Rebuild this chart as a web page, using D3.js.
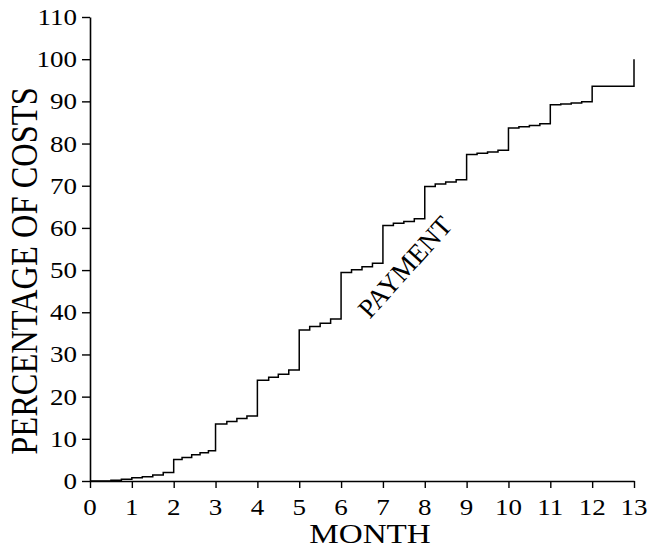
<!DOCTYPE html>
<html>
<head>
<meta charset="utf-8">
<script src="https://cdn.jsdelivr.net/npm/d3@7"></script>
<style>
  html, body { margin: 0; padding: 0; background: #fff; }
  svg text { font-family: "Liberation Serif", "Times New Roman", serif; fill: #000; }
</style>
</head>
<body>
<svg id="chart" width="659" height="550"></svg>
<script>
// ---- data ----
const stepMonths = [0, 0.5, 0.75, 1.0, 1.25, 1.5, 1.75, 2.0, 2.2, 2.43, 2.63, 2.83,
  3.0, 3.27, 3.51, 3.75, 4.0, 4.27, 4.5, 4.75, 5.0, 5.25, 5.5, 5.75,
  6.0, 6.25, 6.5, 6.75, 7.0, 7.25, 7.5, 7.75, 8.0, 8.25, 8.5, 8.75,
  9.0, 9.25, 9.5, 9.75, 10.0, 10.25, 10.5, 10.75, 11.0, 11.25, 11.5, 11.75,
  12.0, 13.0];
const paymentPct = [0, 0.2, 0.4, 0.8, 1.0, 1.4, 2.0, 5.1, 5.6, 6.2, 6.7, 7.2,
  13.5, 14.1, 14.8, 15.4, 23.9, 24.6, 25.3, 26.3, 35.8, 36.6, 37.4, 38.4,
  49.4, 50.1, 50.8, 51.6, 60.6, 61.1, 61.5, 62.2, 69.8, 70.4, 70.9, 71.4,
  77.4, 77.7, 78.0, 78.4, 83.7, 84.0, 84.3, 84.7, 89.2, 89.4, 89.6, 89.9,
  93.6, 100];
const xTicks = [0,1,2,3,4,5,6,7,8,9,10,11,12,13];
const yTicks = [0,10,20,30,40,50,60,70,80,90,100,110];
const xTitle = "MONTH";
const yTitle = "PERCENTAGE OF COSTS";
const curveLabel = "PAYMENT";

// ---- layout ----
const svg = d3.select("#chart");
const mLeft = 90, mRight = 634, mTop = 17, mBottom = 481;
const SX = 1.15; // horizontal stretch of lettering

const x = d3.scaleLinear().domain([0, 13]).range([mLeft, mRight]);
const y = d3.scaleLinear().domain([0, 110]).range([mBottom, mTop]);

// axes
const xAxis = d3.axisBottom(x).tickValues(xTicks).tickSize(7).tickSizeOuter(0).tickFormat("");
const yAxis = d3.axisLeft(y).tickValues(yTicks).tickSize(8).tickSizeOuter(0).tickFormat("");

const gx = svg.append("g").attr("transform", `translate(0,${mBottom})`).call(xAxis);
const gy = svg.append("g").attr("transform", `translate(${mLeft},0)`).call(yAxis);
[gx, gy].forEach(g => {
  g.select(".domain").attr("stroke", "#000").attr("stroke-width", 1.6);
  g.selectAll(".tick line").attr("stroke", "#000").attr("stroke-width", 1.4);
});

// tick labels (real text, slightly stretched horizontally)
svg.append("g").selectAll("text").data(xTicks).join("text")
  .attr("transform", d => `translate(${x(d)},515) scale(${SX},1)`)
  .attr("text-anchor", "middle")
  .attr("font-size", 23.5)
  .text(d => d);

svg.append("g").selectAll("text").data(yTicks).join("text")
  .attr("transform", d => `translate(77,${y(d) + 8}) scale(${SX},1)`)
  .attr("text-anchor", "end")
  .attr("font-size", 23.5)
  .text(d => d);

// axis titles
svg.append("text")
  .attr("transform", `translate(370,543) scale(${SX * 1.03},1)`)
  .attr("text-anchor", "middle")
  .attr("font-size", 28)
  .text(xTitle);

svg.append("text")
  .attr("transform", `translate(37,271) scale(${SX},1) rotate(-90)`)
  .attr("text-anchor", "middle")
  .attr("font-size", 32.5)
  .text(yTitle);

// step curve
const pts = stepMonths.map((m, i) => [m, paymentPct[i]]);
const line = d3.line().x(d => x(d[0])).y(d => y(d[1])).curve(d3.curveStepAfter);
svg.append("path")
  .datum(pts)
  .attr("d", line)
  .attr("fill", "none")
  .attr("stroke", "#000")
  .attr("stroke-width", 1.5);

// curve label
svg.append("text")
  .attr("transform", `translate(${x(7.69)},${y(49.3)}) rotate(-48)`)
  .attr("text-anchor", "middle")
  .attr("font-size", 27)
  .text(curveLabel);
</script>
</body>
</html>
